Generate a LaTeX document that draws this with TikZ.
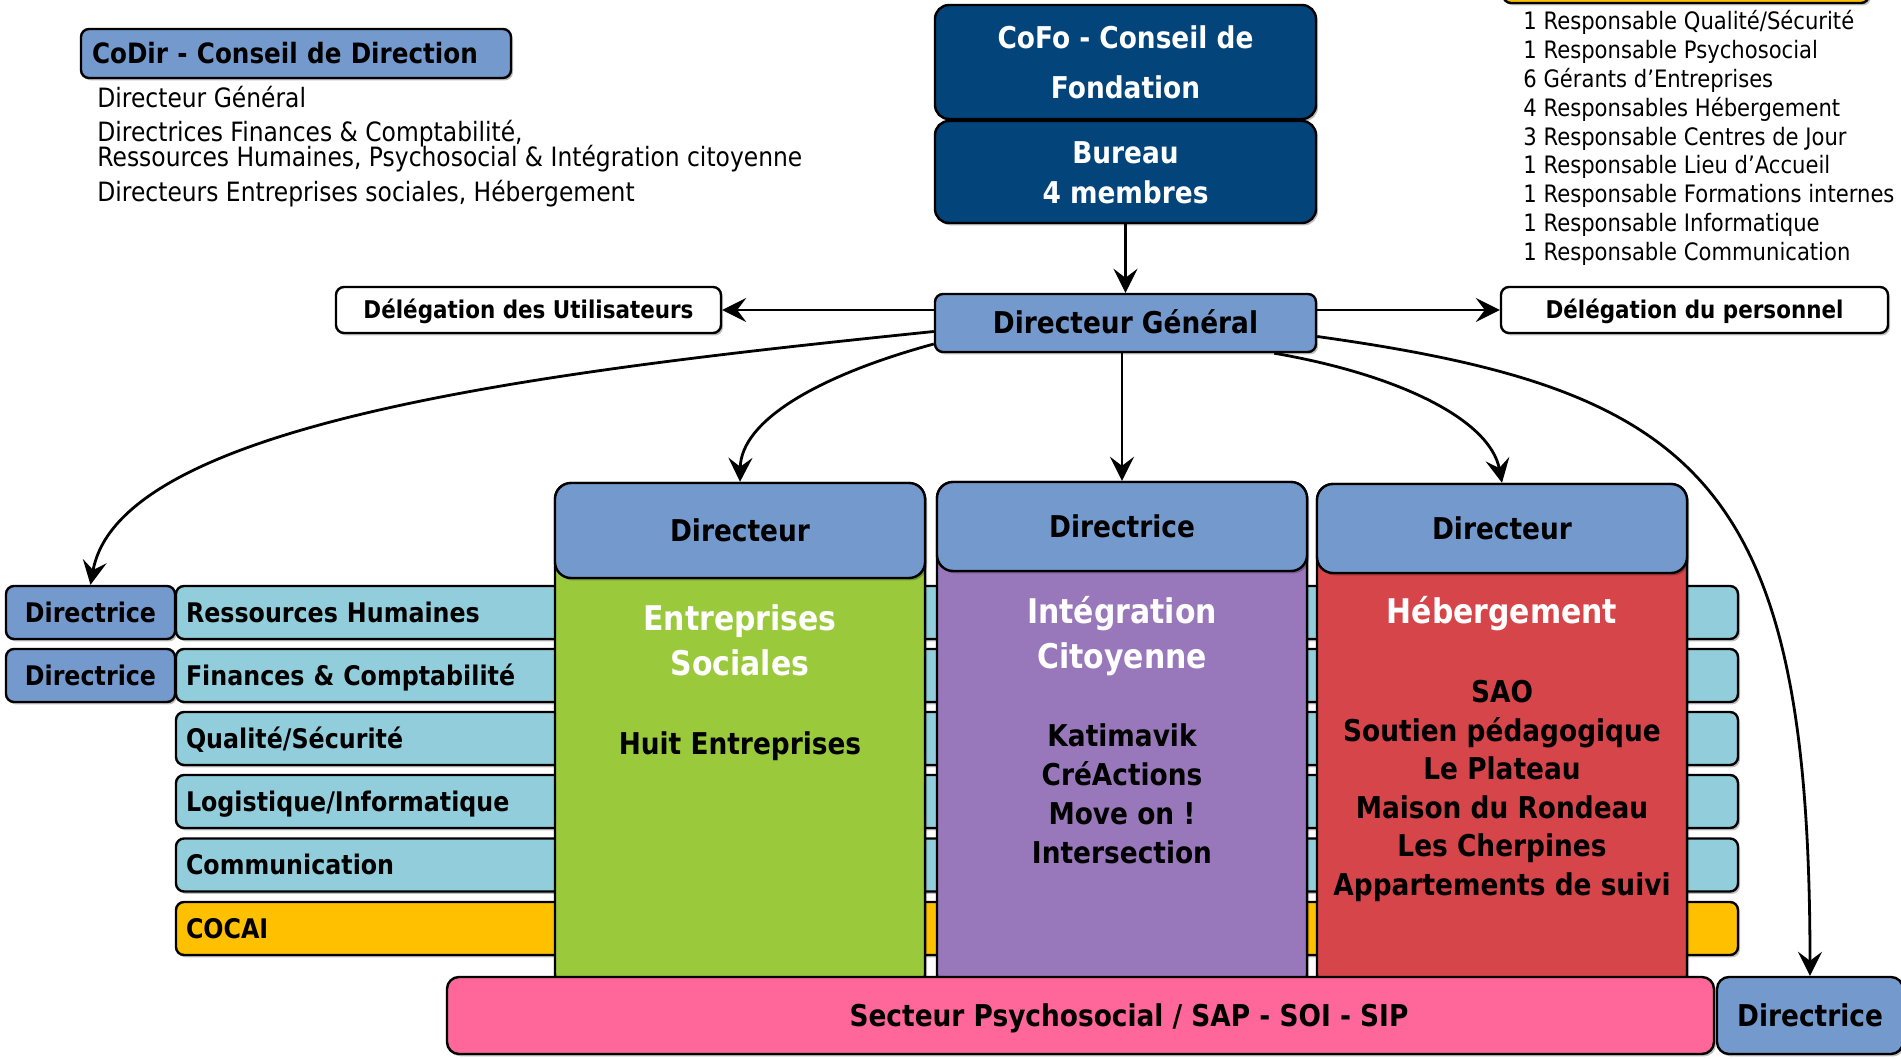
\documentclass[tikz,border=0pt]{standalone}
\usepackage{fontspec}
\setmainfont{DejaVu Sans}[FakeStretch=0.88]
\usetikzlibrary{arrows.meta,shadows}
\definecolor{blueM}{RGB}{116,153,205}
\definecolor{blueD}{RGB}{3,69,122}
\definecolor{aqua}{RGB}{146,205,220}
\definecolor{orangeC}{RGB}{255,192,0}
\definecolor{greenC}{RGB}{154,202,60}
\definecolor{purpleC}{RGB}{153,119,187}
\definecolor{redC}{RGB}{214,69,74}
\definecolor{pinkC}{RGB}{255,102,153}
\begin{document}
\begin{tikzpicture}[x=0.5pt,y=-0.5pt,
  shad/.style={drop shadow={shadow xshift=1pt,shadow yshift=-1.2pt,opacity=0.25,fill=black}},
  box/.style={draw=black,line width=1.2pt,rounded corners=4pt,inner sep=0pt,shad},
  fBxv/.style={font=\fontsize{15}{18}\selectfont\bfseries,text height=11pt,text depth=0pt},
  fBxvii/.style={font=\fontsize{17}{20}\selectfont\bfseries,text height=12.4pt,text depth=0pt},
  fBrow/.style={font=\fontsize{13.5}{16}\selectfont\bfseries,text height=9.9pt,text depth=0pt},
  fBcd/.style={font=\fontsize{14}{16}\selectfont\bfseries,text height=10.2pt,text depth=0pt},
  fBdel/.style={font=\fontsize{12.2}{14}\selectfont\bfseries,text height=8.9pt,text depth=0pt},
  fRtl/.style={font=\fontsize{13.3}{16}\selectfont,text height=9.7pt,text depth=0pt},
  fRtr/.style={font=\fontsize{12}{14}\selectfont,text height=8.8pt,text depth=0pt},
  ln/.style={inner sep=0pt},
  rowb/.style={box,minimum height=26.5pt,text width=771pt,inner xsep=5pt,align=left,fBrow},
  body/.style={box,rounded corners=8pt,minimum width=185pt},
  head/.style={box,rounded corners=8pt,fill=blueM,minimum width=185pt,fBxv},
  conn/.style={line width=1.4pt,-{Stealth[length=12pt,width=12pt,inset=4.5pt]}}
]
\useasboundingbox (0,0) rectangle (1901,1059);

% ---------- horizontal service bars ----------
\node[rowb,fill=aqua] (rRH) at (957,612.5) {Ressources Humaines};
\node[rowb,fill=aqua] (rFC) at (957,675.5) {Finances \& Comptabilité};
\node[rowb,fill=aqua] (rQS) at (957,738.5) {Qualité/Sécurité};
\node[rowb,fill=aqua] (rLI) at (957,801.5) {Logistique/Informatique};
\node[rowb,fill=aqua] (rCo) at (957,865) {Communication};
\node[rowb,fill=orangeC] (rCA) at (957,928.5) {COCAI};

\node[box,fill=blueM,fBrow,minimum width=84.5pt,minimum height=26.5pt] (dRH) at (90.5,612.5) {Directrice};
\node[box,fill=blueM,fBrow,minimum width=84.5pt,minimum height=26.5pt] (dFC) at (90.5,675.5) {Directrice};

% ---------- columns ----------
\node[body,fill=greenC,minimum height=253.5pt] (esb) at (740,736.5) {};
\node[head,minimum height=47.5pt] (esh) at (740,530.5) {Directeur};
\node[ln,fBxvii,text=white] (es1) at (740,618) {Entreprises};
\node[ln,fBxvii,text=white] (es2) at (740,663) {Sociales};
\node[ln,fBxv] (es3) at (740,743) {Huit Entreprises};

\node[body,fill=purpleC,minimum height=254pt] (icb) at (1122,736) {};
\node[head,minimum height=44.5pt] (ich) at (1122,526.5) {Directrice};
\node[ln,fBxvii,text=white] (ic1) at (1122,611) {Intégration};
\node[ln,fBxvii,text=white] (ic2) at (1122,656) {Citoyenne};
\node[ln,fBxv] (ic3) at (1122,735.5) {Katimavik};
\node[ln,fBxv] (ic4) at (1122,774.3) {CréActions};
\node[ln,fBxv] (ic5) at (1122,813.1) {Move on !};
\node[ln,fBxv] (ic6) at (1122,852) {Intersection};

\node[body,fill=redC,minimum height=253pt] (hb) at (1502,737) {};
\node[head,minimum height=44.5pt] (hh) at (1502,528.5) {Directeur};
\node[ln,fBxvii,text=white] (h1) at (1502,611) {Hébergement};
\node[ln,fBxv] (h2) at (1502,691.5) {SAO};
\node[ln,fBxv] (h3) at (1502,730) {Soutien pédagogique};
\node[ln,fBxv] (h4) at (1502,768.5) {Le Plateau};
\node[ln,fBxv] (h5) at (1502,807) {Maison du Rondeau};
\node[ln,fBxv] (h6) at (1502,845.5) {Les Cherpines};
\node[ln,fBxv] (h7) at (1502,884) {Appartements de suivi};

% ---------- bottom bar ----------
\node[box,rounded corners=6pt,fill=pinkC,minimum width=633.5pt,minimum height=38.5pt] (sec) at (1080.5,1015.5) {};
\node[ln,fBxv] (secT) at (1129,1015.5) {Secteur Psychosocial / SAP - SOI - SIP};
\node[box,rounded corners=6pt,fill=blueM,fBxv,minimum width=93pt,minimum height=38.5pt] (dirB) at (1810,1015.5) {Directrice};

% ---------- top ----------
\node[box,rounded corners=7pt,fill=blueD,minimum width=190.5pt,minimum height=57pt] (cofo) at (1125.5,62) {};
\node[ln,fBxv,text=white] (cofo1) at (1125.5,38) {CoFo - Conseil de};
\node[ln,fBxv,text=white] (cofo2) at (1125.5,88) {Fondation};
\node[box,rounded corners=7pt,fill=blueD,minimum width=190.5pt,minimum height=51pt] (bur) at (1125.5,172) {};
\node[ln,fBxv,text=white] (bur1) at (1125.5,153) {Bureau};
\node[ln,fBxv,text=white] (bur2) at (1125.5,193) {4 membres};
\node[box,fill=blueM,fBxv,minimum width=190.5pt,minimum height=29pt] (dg) at (1125.5,323) {Directeur Général};

\node[box,fill=white,fBdel,minimum width=192.5pt,minimum height=23pt] (dU) at (528.5,310) {Délégation des Utilisateurs};
\node[box,fill=white,fBdel,minimum width=193.5pt,minimum height=23pt] (dP) at (1694.5,310) {Délégation du personnel};

\node[box,fill=blueM,fBcd,text width=204pt,inner xsep=5.5pt,align=left,minimum height=24.5pt] (codir) at (296,53.5) {CoDir - Conseil de Direction};
\node[ln,fRtl,anchor=west] (tl1) at (97,98) {Directeur Général};
\node[ln,fRtl,anchor=west] (tl2) at (97,132) {Directrices Finances \& Comptabilité,};
\node[ln,fRtl,anchor=west] (tl3) at (97,157) {Ressources Humaines, Psychosocial \& Intégration citoyenne};
\node[ln,fRtl,anchor=west] (tl4) at (97,192) {Directeurs Entreprises sociales, Hébergement};

\node[box,fill=orangeC,minimum width=183pt,minimum height=20pt] (topbox) at (1686,-17) {};
\node[ln,fRtr,anchor=west] (tr1) at (1523,21) {1 Responsable Qualité/Sécurité};
\node[ln,fRtr,anchor=west] (tr2) at (1523,50) {1 Responsable Psychosocial};
\node[ln,fRtr,anchor=west] (tr3) at (1523,79) {6 Gérants d’Entreprises};
\node[ln,fRtr,anchor=west] (tr4) at (1523,108) {4 Responsables Hébergement};
\node[ln,fRtr,anchor=west] (tr5) at (1523,137) {3 Responsable Centres de Jour};
\node[ln,fRtr,anchor=west] (tr6) at (1523,165) {1 Responsable Lieu d’Accueil};
\node[ln,fRtr,anchor=west] (tr7) at (1523,194) {1 Responsable Formations internes};
\node[ln,fRtr,anchor=west] (tr8) at (1523,223) {1 Responsable Informatique};
\node[ln,fRtr,anchor=west] (tr9) at (1523,252) {1 Responsable Communication};

% ---------- connectors ----------
\draw[conn] (bur.south) -- (dg.north);
\draw[conn] (dg.west |- dU.east) -- (dU.east);
\draw[conn] (dg.east |- dP.west) -- (dP.west);
\draw[conn] ([yshift=-4.25pt]dg.west) .. controls (560,370) and (120,420) .. (dRH.north);
\draw[conn] ([yshift=-10.5pt]dg.west) .. controls (820,375) and (741,420) .. (esh.north);
\draw[conn] (ich.north |- dg.south) -- (ich.north);
\draw[conn] ([xshift=-21.5pt]dg.south east) .. controls (1400,375) and (1490,420) .. (hh.north);
\draw[conn] ([yshift=-6.75pt]dg.east) .. controls (1700,390) and (1810,480) .. (dirB.north);
\end{tikzpicture}
\end{document}
